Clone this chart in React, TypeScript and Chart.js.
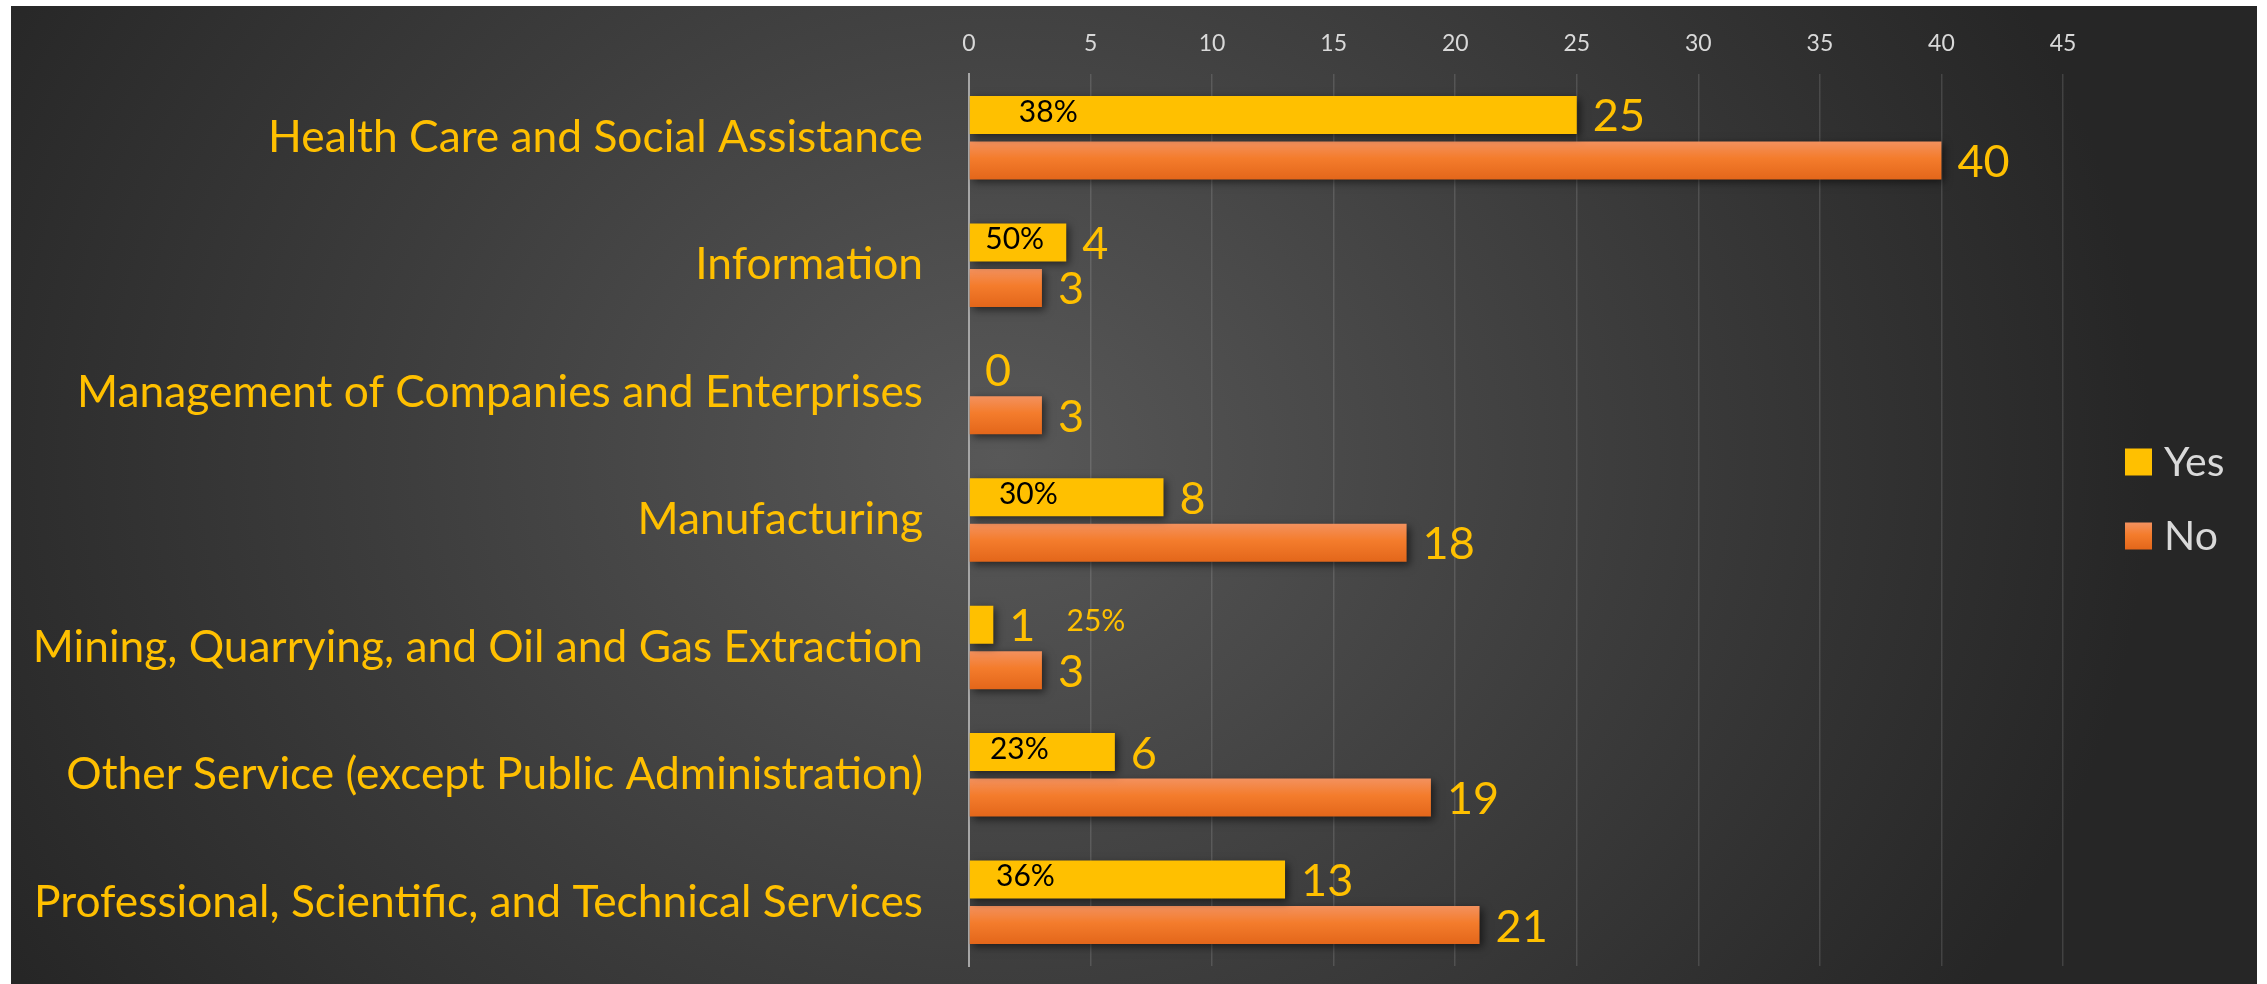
import React, { useEffect, useRef } from "react";
import { Chart, registerables } from "chart.js";

Chart.register(...registerables);

// ---- data ----
const categories = [
  "Health Care and Social Assistance",
  "Information",
  "Management of Companies and Enterprises",
  "Manufacturing",
  "Mining, Quarrying, and Oil and Gas Extraction",
  "Other Service (except Public Administration)",
  "Professional, Scientific, and Technical Services",
];
const seriesNames = ["Yes", "No"];
const yesValues = [25, 4, 0, 8, 1, 6, 13];
const noValues = [40, 3, 3, 18, 3, 19, 21];
const yesShareLabels = ["38%", "50%", "", "30%", "25%", "23%", "36%"];
const axisMin = 0;
const axisMax = 45;
const axisStep = 5;

// ---- label placement (axis units, layout only) ----
const shareLabelAnchor = [3.26, 1.88, null, 2.44, 5.22, 2.07, 2.32];

// ---- layout / style ----
const W = 2246;
const H = 978;
const PLOT_LEFT = 958;
const PLOT_TOP = 68;
const PLOT_RIGHT = 2052;
const PLOT_BOTTOM = 960;
const FONT = "'Lato', sans-serif";
const GOLD = "#FFC000";
const LIGHT = "#d9d9d9";
const ORANGE = "#F47C2C";

function orangeGradient(ctx: CanvasRenderingContext2D, y0: number, y1: number) {
  const g = ctx.createLinearGradient(0, y0, 0, y1);
  g.addColorStop(0, "#F39260");
  g.addColorStop(0.45, "#F47C2C");
  g.addColorStop(1, "#E3661A");
  return g;
}

const shadowPlugin = {
  id: "barShadow",
  beforeDatasetsDraw(chart: any) {
    const ctx = chart.ctx;
    ctx.save();
    ctx.shadowColor = "rgba(0,0,0,0.55)";
    ctx.shadowBlur = 8;
    ctx.shadowOffsetX = 3;
    ctx.shadowOffsetY = 3;
  },
  afterDatasetsDraw(chart: any) {
    chart.ctx.restore();
  },
};

const labelPlugin = {
  id: "barLabels",
  afterDatasetsDraw(chart: any) {
    const ctx = chart.ctx;
    ctx.save();
    ctx.textBaseline = "middle";
    chart.data.datasets.forEach((ds: any, di: number) => {
      const meta = chart.getDatasetMeta(di);
      meta.data.forEach((bar: any, i: number) => {
        ctx.font = `45px ${FONT}`;
        ctx.fillStyle = GOLD;
        ctx.textAlign = "left";
        ctx.fillText(String(ds.data[i]), bar.x + 16, bar.y + 2);
      });
    });
    const yesMeta = chart.getDatasetMeta(0);
    const xs = chart.scales.x;
    yesShareLabels.forEach((t, i) => {
      const at = shareLabelAnchor[i];
      if (!t || at == null) return;
      const bar = yesMeta.data[i];
      ctx.font = `30px ${FONT}`;
      ctx.fillStyle = at < yesValues[i] ? "#000000" : GOLD;
      ctx.textAlign = "center";
      ctx.fillText(t, xs.getPixelForValue(at), bar.y - 3);
    });
    ctx.restore();
  },
};

const legendPlugin = {
  id: "sideLegend",
  afterDraw(chart: any) {
    const ctx = chart.ctx;
    const x = chart.chartArea.right + 62;
    const size = 27;
    const gap = 74;
    const startY = H / 2 - gap / 2 + 4;
    ctx.save();
    chart.data.datasets.forEach((ds: any, i: number) => {
      const cy = startY + i * gap;
      const top = cy - size / 2;
      ctx.fillStyle = i === 1 ? orangeGradient(ctx, top, top + size) : ds.legendColor;
      ctx.fillRect(x, top, size, size);
      ctx.fillStyle = LIGHT;
      ctx.font = `41px ${FONT}`;
      ctx.textBaseline = "middle";
      ctx.textAlign = "left";
      ctx.fillText(ds.label, x + size + 12, cy + 1);
    });
    ctx.restore();
  },
};

export default function App() {
  const canvasRef = useRef<HTMLCanvasElement | null>(null);

  useEffect(() => {
    const canvas = canvasRef.current;
    if (!canvas) return;
    const chart = new Chart(canvas, {
      type: "bar",
      data: {
        labels: categories,
        datasets: [
          {
            label: seriesNames[0],
            data: yesValues,
            backgroundColor: GOLD,
            legendColor: GOLD,
            categoryPercentage: 0.714,
            barPercentage: 0.835,
          } as any,
          {
            label: seriesNames[1],
            data: noValues,
            legendColor: ORANGE,
            backgroundColor: (c: any) => {
              const ys = c.chart.scales?.y;
              if (c.type !== "data" || !ys) return ORANGE;
              const center = ys.getPixelForValue(c.dataIndex);
              if (!Number.isFinite(center)) return ORANGE;
              return orangeGradient(c.chart.ctx, center + 3, center + 42);
            },
            categoryPercentage: 0.714,
            barPercentage: 0.835,
          } as any,
        ],
      },
      options: {
        responsive: false,
        animation: false,
        indexAxis: "y",
        layout: {
          padding: { top: 0, left: 0, right: W - PLOT_RIGHT, bottom: H - PLOT_BOTTOM },
        },
        plugins: {
          legend: { display: false },
          tooltip: { enabled: false },
        },
        scales: {
          x: {
            position: "top",
            min: axisMin,
            max: axisMax,
            ticks: {
              stepSize: axisStep,
              color: LIGHT,
              font: { family: FONT, size: 23 },
              padding: 17,
            },
            grid: { color: "rgba(255,255,255,0.13)", lineWidth: 1.5, drawTicks: false },
            border: { display: false },
            afterFit: (s: any) => {
              s.height = PLOT_TOP;
            },
          },
          y: {
            ticks: {
              color: GOLD,
              font: { family: FONT, size: 44.3 },
              padding: 46,
            },
            grid: { display: false, drawTicks: false },
            border: { display: true, color: "#a6a6a6", width: 2 },
            afterFit: (s: any) => {
              s.width = PLOT_LEFT;
              s.paddingTop = 0;
              s.paddingBottom = 0;
            },
          },
        },
      } as any,
      plugins: [shadowPlugin, labelPlugin, legendPlugin],
    });
    chart.update();
    return () => chart.destroy();
  }, []);

  return (
    <div
      style={{
        position: "absolute",
        left: 11,
        top: 6,
        width: W,
        height: H,
        background:
          "radial-gradient(ellipse 1150px 1000px at 990px 450px, #585858 0%, #3c3c3c 55%, #262626 100%)",
      }}
    >
      <canvas ref={canvasRef} width={W} height={H} style={{ display: "block" }} />
    </div>
  );
}
